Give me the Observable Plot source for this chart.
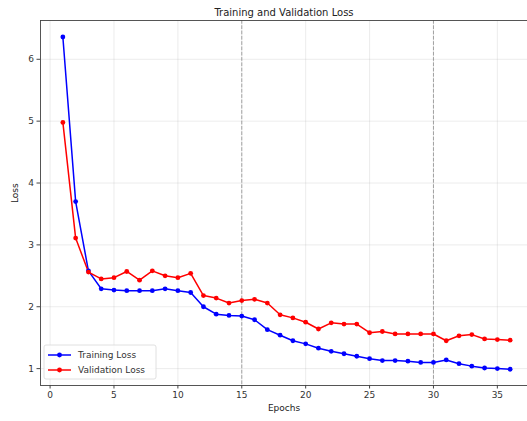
<!DOCTYPE html>
<html>
<head>
<meta charset="utf-8">
<script src="https://cdn.jsdelivr.net/npm/d3@7"></script>
<script src="https://cdn.jsdelivr.net/npm/@observablehq/plot@0.6"></script>
<style>
  html, body { margin: 0; padding: 0; background: #fff; }
  #chart svg { display: block; }
</style>
</head>
<body>
<div id="chart"></div>
<script>
// Per-epoch loss values
const epochs = d3.range(1, 37);
const trainLoss = [6.36, 3.70, 2.58, 2.29, 2.27, 2.26, 2.26, 2.26, 2.29, 2.26, 2.23, 2.00,
  1.88, 1.86, 1.85, 1.79, 1.63, 1.54, 1.45, 1.40, 1.33, 1.28, 1.24, 1.20,
  1.16, 1.13, 1.13, 1.12, 1.10, 1.10, 1.14, 1.08, 1.04, 1.01, 1.00, 0.99];
const valLoss = [4.98, 3.11, 2.56, 2.45, 2.47, 2.57, 2.43, 2.58, 2.50, 2.47, 2.54, 2.18,
  2.14, 2.06, 2.10, 2.12, 2.06, 1.87, 1.82, 1.75, 1.64, 1.74, 1.72, 1.72,
  1.58, 1.60, 1.56, 1.56, 1.56, 1.56, 1.45, 1.53, 1.55, 1.48, 1.47, 1.46];
const markerEpochs = [15, 30];
const xTicks = [0, 5, 10, 15, 20, 25, 30, 35];
const yTicks = [1, 2, 3, 4, 5, 6];
const seriesNames = ["Training Loss", "Validation Loss"];
const seriesColors = ["blue", "red"];

const rows = [
  ...epochs.map((e, i) => ({epoch: e, loss: trainLoss[i], series: seriesNames[0]})),
  ...epochs.map((e, i) => ({epoch: e, loss: valLoss[i], series: seriesNames[1]}))
];

const font = "DejaVu Sans, sans-serif";

const chart = Plot.plot({
  width: 527,
  height: 421,
  marginTop: 20,
  marginBottom: 36,
  marginLeft: 40,
  marginRight: 0,
  style: {fontFamily: font, fontSize: "9px", color: "#333", background: "#fff"},
  x: {domain: [-0.75, 37.75], range: [40, 532], label: null},
  y: {domain: [0.727, 6.627], label: null},
  color: {domain: seriesNames, range: seriesColors},
  marks: [
    Plot.gridX(xTicks, {stroke: "#b0b0b0", strokeOpacity: 0.3, strokeWidth: 0.8}),
    Plot.gridY(yTicks, {stroke: "#b0b0b0", strokeOpacity: 0.3, strokeWidth: 0.8}),
    Plot.ruleX(markerEpochs, {stroke: "gray", strokeOpacity: 0.7, strokeWidth: 1, strokeDasharray: "3.7,1.6"}),
    Plot.line(rows, {x: "epoch", y: "loss", z: "series", stroke: "series", strokeWidth: 1.5}),
    Plot.dot(rows, {x: "epoch", y: "loss", fill: "series", r: 2.4, stroke: null}),
    Plot.frame({stroke: "#444", strokeWidth: 0.9}),
    Plot.axisX(xTicks, {tickSize: 3.5, tickPadding: 3, stroke: "#444", fontSize: 9, tickFormat: d3.format("d"), label: null}),
    Plot.axisY(yTicks, {tickSize: 3.5, tickPadding: 3, stroke: "#444", fontSize: 9, tickFormat: d3.format("d"), label: null}),
    Plot.text(["Training and Validation Loss"], {frameAnchor: "top", dy: -12, fontSize: 10, fill: "#222"}),
    Plot.text(["Epochs"], {frameAnchor: "bottom", dy: 25, fontSize: 9, fill: "#222"}),
    Plot.text(["Loss"], {frameAnchor: "left", dx: -25, rotate: -90, fontSize: 9, fill: "#222"})
  ]
});

// Legend box in the lower-left corner of the frame
const svg = d3.select(chart);
const lg = svg.append("g").attr("font-family", font).attr("font-size", 9).attr("text-anchor", "start");
lg.append("rect")
  .attr("x", 44).attr("y", 345).attr("width", 112).attr("height", 34)
  .attr("rx", 2).attr("fill", "#fff").attr("fill-opacity", 0.8)
  .attr("stroke", "#d8d8d8").attr("stroke-width", 0.8);
seriesNames.forEach((name, i) => {
  const y = 355 + i * 15;
  lg.append("line").attr("x1", 48).attr("x2", 71).attr("y1", y).attr("y2", y)
    .attr("stroke", seriesColors[i]).attr("stroke-width", 1.5);
  lg.append("circle").attr("cx", 59.5).attr("cy", y).attr("r", 2.4).attr("fill", seriesColors[i]);
  lg.append("text").attr("x", 78).attr("y", y).attr("dy", "0.35em")
    .attr("text-anchor", "start").attr("fill", "#333").text(name);
});

document.getElementById("chart").appendChild(chart);
</script>
</body>
</html>
